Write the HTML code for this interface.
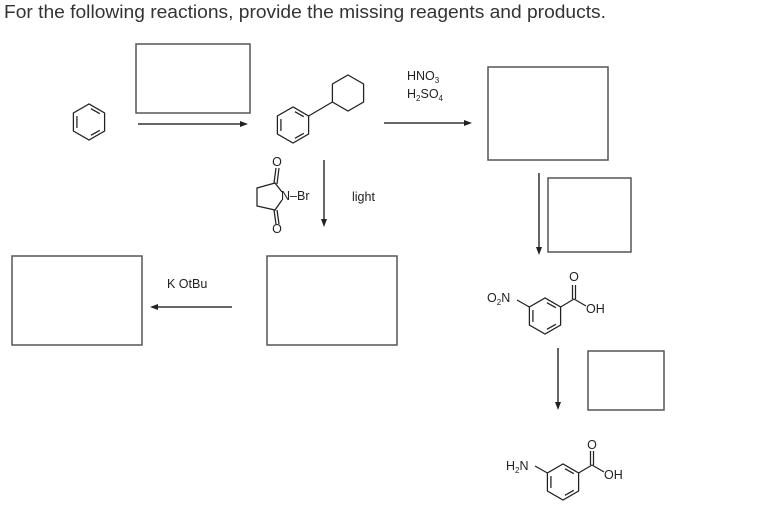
<!DOCTYPE html>
<html><head><meta charset="utf-8"><style>
html,body{margin:0;padding:0;background:#fff;}
svg{display:block;font-family:"Liberation Sans",sans-serif;}
</style></head><body>
<svg width="780" height="520" viewBox="0 0 780 520" xmlns="http://www.w3.org/2000/svg">
<defs>
<g id="bz" fill="none" stroke="#222" stroke-width="1.2">
<polygon points="0,-17 14.72,-8.5 14.72,8.5 0,17 -14.72,8.5 -14.72,-8.5"/>
<line x1="1.8" y1="-12.6" x2="10.2" y2="-7.8"/>
<line x1="10.2" y1="7.8" x2="1.8" y2="12.6"/>
<line x1="-11.4" y1="-5.6" x2="-11.4" y2="5.6"/>
</g>
</defs>
<text x="4" y="18" font-size="18" fill="#333" textLength="602" lengthAdjust="spacingAndGlyphs">For the following reactions, provide the missing reagents and products.</text>

<g fill="none" stroke="#555" stroke-width="1.5">
<rect x="136" y="44" width="114" height="69"/>
<rect x="488" y="67" width="120" height="93"/>
<rect x="548" y="178" width="83" height="74"/>
<rect x="12" y="256" width="130" height="89"/>
<rect x="267" y="256" width="130" height="89"/>
<rect x="588" y="351" width="76" height="59"/>
</g>

<g stroke="#333" stroke-width="1.5" fill="#222">
<line x1="138" y1="124" x2="242" y2="124"/><polygon points="248,124 240,121 240,127" stroke="none"/>
<line x1="384" y1="123" x2="466" y2="123"/><polygon points="472,123 464,120 464,126" stroke="none"/>
<line x1="232" y1="307" x2="156" y2="307"/><polygon points="150,307 158,304 158,310" stroke="none"/>
<line x1="324" y1="160" x2="324" y2="221"/><polygon points="324,227 321,219 327,219" stroke="none"/>
<line x1="539" y1="173" x2="539" y2="249"/><polygon points="539,255 536,247 542,247" stroke="none"/>
<line x1="558" y1="348" x2="558" y2="404"/><polygon points="558,410 555,402 561,402" stroke="none"/>
</g>

<use href="#bz" transform="translate(89,122) scale(1.06)"/>
<use href="#bz" transform="translate(293,125) scale(1.06)"/>
<g fill="none" stroke="#222" stroke-width="1.25">
<polygon points="348,75 363.6,84 363.6,102 348,111 332.4,102 332.4,84"/>
<line x1="308.6" y1="116" x2="332.4" y2="102"/>
<polyline points="282,192 275,183 257,188 257,206 275,210 282,200"/>
<line x1="274" y1="183" x2="276" y2="168"/><line x1="277" y1="184" x2="279" y2="168"/>
<line x1="274" y1="210" x2="276" y2="224"/><line x1="277" y1="210" x2="279" y2="224"/>
<line x1="529.4" y1="307" x2="517" y2="300"/>
<line x1="560.6" y1="307" x2="574" y2="299"/>
<line x1="572.5" y1="299" x2="572.5" y2="285"/><line x1="575.5" y1="299" x2="575.5" y2="285"/>
<line x1="574" y1="299" x2="586" y2="306"/>
<line x1="547.4" y1="473" x2="535" y2="466"/>
<line x1="578.6" y1="473" x2="592" y2="465"/>
<line x1="590.5" y1="465" x2="590.5" y2="451"/><line x1="593.5" y1="465" x2="593.5" y2="451"/>
<line x1="592" y1="465" x2="604" y2="472"/>
</g>
<use href="#bz" transform="translate(545,316) scale(1.06)"/>
<use href="#bz" transform="translate(563,482) scale(1.06)"/>

<g font-size="12.5" fill="#222">
<text x="277" y="166" text-anchor="middle">O</text>
<text x="277" y="233" text-anchor="middle">O</text>
<text x="281" y="200">N–Br</text>
<text x="352" y="201">light</text>
<text x="167" y="288">K OtBu</text>
<text x="407" y="80">HNO<tspan font-size="8" dy="3">3</tspan></text>
<text x="407" y="98">H<tspan font-size="8" dy="3">2</tspan><tspan dy="-3">SO</tspan><tspan font-size="8" dy="3">4</tspan></text>
<text x="487" y="302">O<tspan font-size="8" dy="3">2</tspan><tspan dy="-3">N</tspan></text>
<text x="574" y="281" text-anchor="middle">O</text>
<text x="586" y="313">OH</text>
<text x="506" y="470">H<tspan font-size="8" dy="3">2</tspan><tspan dy="-3">N</tspan></text>
<text x="592" y="449" text-anchor="middle">O</text>
<text x="604" y="479">OH</text>
</g>
</svg>
</body></html>
